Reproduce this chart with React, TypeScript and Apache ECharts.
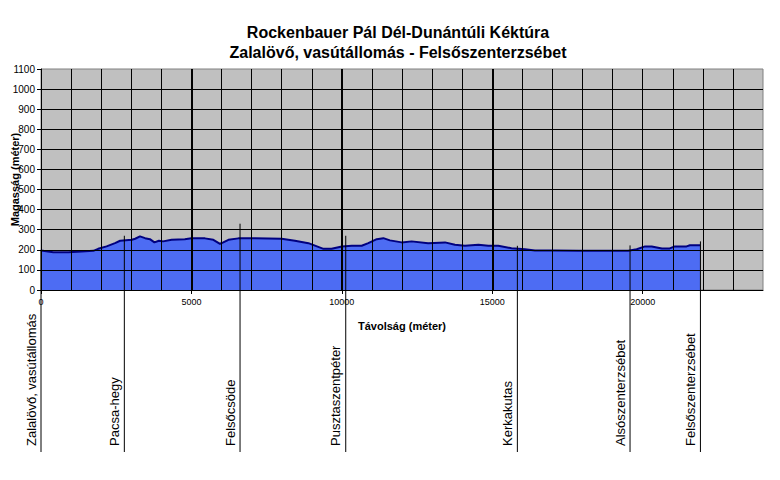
import React, { useEffect, useRef } from "react";
import * as echarts from "echarts";

const titleLines = [
  "Rockenbauer Pál Dél-Dunántúli Kéktúra",
  "Zalalövő, vasútállomás - Felsőszenterzsébet",
];

const distances = [
  0, 410, 910, 1350, 1740, 1900, 2180, 2460, 2630, 3020, 3130, 3290, 3460, 3620,
  3770, 3920, 4060, 4340, 4780, 5000, 5450, 5730, 5950, 6060, 6230, 6560, 7110,
  8000, 8440, 8890, 9390, 9660, 10000, 10330, 10660, 10880, 11160, 11380, 11600,
  11990, 12320, 12870, 13430, 13760, 14090, 14540, 14870, 15200, 15640, 16090,
  16420, 17080, 17860, 19520, 19800, 20080, 20300, 20640, 20900, 21070, 21460,
  21570, 21910,
];

const elevations = [
  197, 188, 188, 192, 195, 205, 217, 233, 245, 250, 255, 267, 258, 253,
  237, 245, 242, 250, 253, 257, 257, 250, 230, 237, 250, 257, 257,
  255, 245, 233, 205, 205, 217, 220, 220, 233, 253, 258, 247,
  237, 242, 233, 237, 225, 220, 225, 220, 220, 208, 203,
  197, 197, 195, 195, 203, 217, 217, 207, 207, 217, 217,
  223, 223,
];

const stationNames = [
  "Zalalövő, vasútállomás",
  "Pacsa-hegy",
  "Felsőcsöde",
  "Pusztaszentpéter",
  "Kerkakutas",
  "Alsószenterzsébet",
  "Felsőszenterzsébet",
];
const stationDistances = [0, 2770, 6616, 10130, 15835, 19580, 21920];
const stationTops = [200, 270, 330, 270, 220, 222, 242];

const xLabelValues = [0, 5000, 10000, 15000, 20000];

const FONT = 'Arial, "Liberation Sans", sans-serif';

export default function App() {
  const ref = useRef<HTMLDivElement>(null);

  useEffect(() => {
    if (!ref.current) return;
    const chart = echarts.init(ref.current, null, { renderer: "svg" });

    const profile = distances.map((d, i) => [d, elevations[i]]);
    const stations = stationDistances.map((d, i) => [d, stationTops[i]]);
    const plain = (v: number) => String(v);

    chart.setOption({
      animation: false,
      backgroundColor: "#ffffff",
      title: {
        text: titleLines.join("\n"),
        left: 393,
        top: 17,
        textAlign: "center",
        textStyle: {
          fontFamily: FONT,
          fontSize: 16,
          fontWeight: "bold",
          color: "#000",
          lineHeight: 20,
        },
      },
      grid: {
        left: 41,
        top: 69,
        right: 17,
        bottom: 190,
        show: true,
        backgroundColor: "#c0c0c0",
        borderColor: "#808080",
        borderWidth: 1,
        containLabel: false,
        outerBoundsMode: "none",
      },
      xAxis: [
        {
          type: "value",
          min: 0,
          max: 24000,
          interval: 1000,
          z: 3,
          axisLine: { show: true, onZero: false, lineStyle: { color: "#000", width: 1 } },
          axisTick: { show: false },
          axisLabel: { show: false },
          splitLine: {
            show: true,
            showMaxLine: false,
            lineStyle: { color: "#000", width: 1 },
          },
        },
        {
          type: "value",
          min: 0,
          max: 24000,
          interval: 5000,
          z: 3,
          position: "bottom",
          name: "Távolság (méter)",
          nameLocation: "middle",
          nameGap: 30,
          nameMoveOverlap: false,
          nameTextStyle: {
            fontFamily: FONT,
            fontSize: 11,
            fontWeight: "bold",
            color: "#000",
          },
          axisLine: { show: false },
          axisTick: {
            show: true,
            length: 4,
            customValues: xLabelValues,
            lineStyle: { color: "#000" },
          },
          axisLabel: {
            customValues: xLabelValues,
            formatter: plain,
            fontFamily: FONT,
            fontSize: 9,
            color: "#000",
            margin: 7,
          },
          splitLine: {
            show: true,
            showMinLine: false,
            showMaxLine: false,
            lineStyle: { color: "#000", width: 2 },
          },
        },
      ],
      yAxis: {
        type: "value",
        min: 0,
        max: 1100,
        interval: 100,
        z: 3,
        name: "Magasság (méter)",
        nameLocation: "middle",
        nameGap: 21,
        nameMoveOverlap: false,
        nameTextStyle: {
          fontFamily: FONT,
          fontSize: 11,
          fontWeight: "bold",
          color: "#000",
        },
        axisLine: { show: true, lineStyle: { color: "#000", width: 1 } },
        axisTick: { show: true, length: 4, lineStyle: { color: "#000" } },
        axisLabel: {
          formatter: plain,
          fontFamily: FONT,
          fontSize: 10,
          color: "#000",
          margin: 6,
        },
        splitLine: {
          show: true,
          showMaxLine: false,
          lineStyle: { color: "#000", width: 1 },
        },
      },
      series: [
        {
          type: "line",
          xAxisIndex: 0,
          data: profile,
          showSymbol: false,
          symbol: "none",
          z: 2,
          lineStyle: { color: "#000080", width: 2 },
          areaStyle: { color: "#4d6cf3", opacity: 1 },
        },
        {
          type: "custom",
          xAxisIndex: 0,
          clip: false,
          z: 5,
          data: stations,
          renderItem: (params: any, api: any) => {
            const p = api.coord([api.value(0), api.value(1)]);
            const name = stationNames[params.dataIndex];
            return {
              type: "group",
              children: [
                {
                  type: "line",
                  shape: { x1: p[0], y1: p[1], x2: p[0], y2: 452 },
                  style: { stroke: "#000", lineWidth: 1 },
                },
                {
                  type: "text",
                  x: p[0] - 10,
                  y: 446,
                  rotation: Math.PI / 2,
                  style: {
                    text: name,
                    fill: "#000",
                    font: `13px ${FONT}`,
                    align: "left",
                    verticalAlign: "middle",
                  },
                },
              ],
            };
          },
        },
      ],
    });

    return () => chart.dispose();
  }, []);

  return (
    <div
      ref={ref}
      style={{ position: "fixed", left: 0, top: 0, width: 780, height: 480 }}
    />
  );
}
